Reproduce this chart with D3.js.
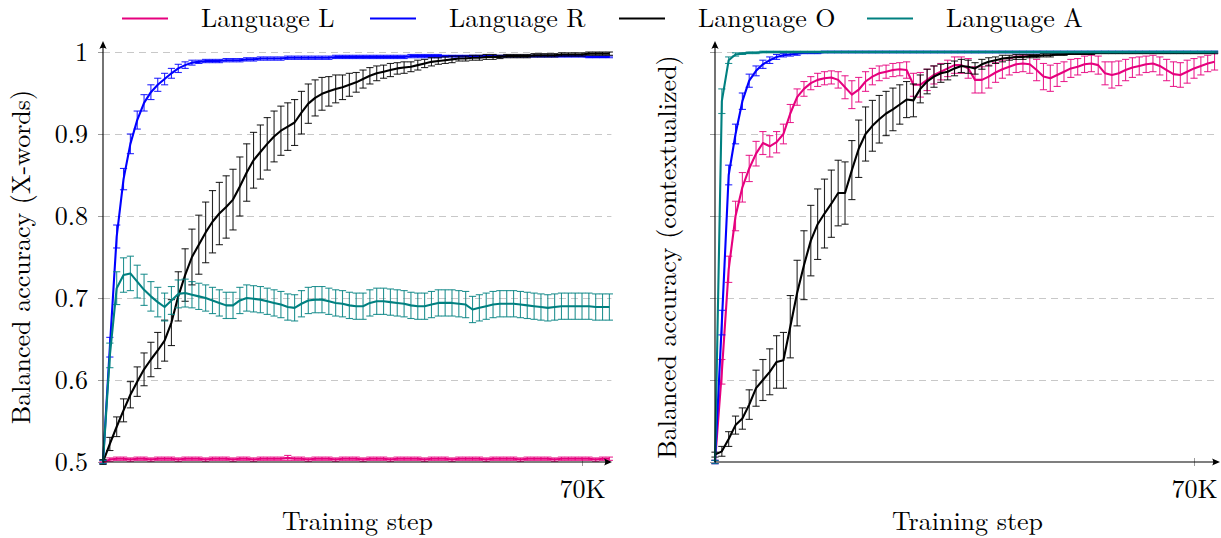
<!DOCTYPE html>
<html>
<head>
<meta charset="utf-8">
<script src="https://cdn.jsdelivr.net/npm/d3@7"></script>
<style>
  html, body { margin: 0; padding: 0; background: #fff; }
  svg { display: block; }
</style>
</head>
<body>
<svg id="chart" width="1221" height="538"></svg>
<script>
const FONT_FAMILY = '"Latin Modern Roman", "Liberation Serif"';
const FONT = 26;

// Training checkpoints, in thousands of steps
const stepsK = [0,1,2,3,4,5,6,7,8,9,10,11,12,13,14,15,16,17,18,19,20,21,22,23,24,25,26,27,28,29,
  30,31,32,33,34,35,36,37,38,39,40,41,42,43,44,45,46,47,48,49,50,51,52,53,54,55,56,57,58,59,
  60,61,62,63,64,65,66,67,68,69,70,71,72,73,74];

const seriesNames = ["Language L", "Language R", "Language O", "Language A"];
const seriesColors = ["#e6007e", "#0000ff", "#000000", "#008080"];

const yTicks = [0.5, 0.6, 0.7, 0.8, 0.9, 1.0];
const yTickLabels = ["0.5", "0.6", "0.7", "0.8", "0.9", "1"];
const xTicks = [70];
const xTickLabels = ["70K"];

// ---- Left panel: balanced accuracy on X-words ----
const leftL = [0.500,0.503,0.504,0.504,0.503,0.504,0.504,0.503,0.504,0.504,
  0.504,0.503,0.504,0.504,0.504,0.503,0.504,0.504,0.504,0.503,
  0.504,0.504,0.503,0.504,0.504,0.504,0.504,0.505,0.504,0.504,
  0.503,0.504,0.504,0.504,0.503,0.504,0.504,0.504,0.503,0.504,
  0.504,0.504,0.503,0.504,0.504,0.504,0.504,0.503,0.504,0.504,
  0.504,0.503,0.504,0.504,0.504,0.504,0.503,0.504,0.504,0.504,
  0.504,0.503,0.504,0.504,0.504,0.504,0.503,0.504,0.504,0.504,
  0.504,0.504,0.503,0.504,0.504];
const leftLErr = [0.001,0.002,0.002,0.002,0.002,0.002,0.002,0.002,0.002,0.002,
  0.002,0.002,0.002,0.002,0.002,0.002,0.002,0.002,0.002,0.002,
  0.002,0.002,0.002,0.002,0.002,0.002,0.002,0.003,0.002,0.002,
  0.002,0.002,0.002,0.002,0.002,0.002,0.002,0.002,0.002,0.002,
  0.002,0.002,0.002,0.002,0.002,0.002,0.002,0.002,0.002,0.002,
  0.002,0.002,0.002,0.002,0.002,0.002,0.002,0.002,0.002,0.002,
  0.002,0.002,0.002,0.002,0.002,0.002,0.002,0.002,0.002,0.002,
  0.002,0.002,0.002,0.002,0.002];

const leftR = [0.500,0.640,0.775,0.845,0.888,0.917,0.938,0.951,0.960,0.967,
  0.974,0.980,0.984,0.987,0.988,0.989,0.989,0.989,0.990,0.990,
  0.990,0.991,0.991,0.992,0.992,0.992,0.992,0.993,0.993,0.993,
  0.993,0.993,0.993,0.993,0.994,0.994,0.994,0.994,0.994,0.994,
  0.994,0.994,0.994,0.994,0.994,0.995,0.995,0.995,0.995,0.995,
  0.995,0.995,0.995,0.995,0.995,0.995,0.995,0.995,0.995,0.995,
  0.995,0.995,0.995,0.995,0.995,0.995,0.995,0.995,0.995,0.995,
  0.995,0.994,0.994,0.994,0.994];
const leftRErr = [0.002,0.012,0.014,0.013,0.012,0.011,0.010,0.009,0.008,0.007,
  0.006,0.005,0.004,0.003,0.002,0.002,0.002,0.002,0.002,0.002,
  0.002,0.002,0.002,0.002,0.002,0.002,0.002,0.002,0.002,0.002,
  0.002,0.002,0.002,0.002,0.002,0.002,0.002,0.002,0.002,0.002,
  0.002,0.002,0.002,0.002,0.002,0.002,0.002,0.002,0.002,0.002,
  0.001,0.001,0.001,0.001,0.001,0.001,0.001,0.001,0.001,0.001,
  0.001,0.001,0.001,0.001,0.001,0.001,0.001,0.001,0.001,0.001,
  0.001,0.001,0.001,0.001,0.001];

const leftO = [0.500,0.522,0.543,0.563,0.582,0.598,0.613,0.625,0.636,0.648,
  0.670,0.702,0.728,0.750,0.765,0.780,0.793,0.803,0.811,0.820,
  0.836,0.853,0.868,0.878,0.888,0.897,0.904,0.909,0.914,0.926,
  0.937,0.944,0.949,0.952,0.955,0.957,0.960,0.963,0.967,0.971,
  0.974,0.976,0.978,0.980,0.981,0.982,0.984,0.986,0.988,0.989,
  0.990,0.991,0.992,0.992,0.993,0.993,0.994,0.994,0.994,0.995,
  0.995,0.995,0.995,0.996,0.996,0.996,0.996,0.997,0.997,0.997,
  0.997,0.998,0.998,0.998,0.998];
const leftOErr = [0.003,0.008,0.012,0.014,0.016,0.018,0.020,0.021,0.022,0.025,
  0.028,0.030,0.032,0.034,0.036,0.037,0.038,0.038,0.038,0.037,
  0.036,0.035,0.034,0.033,0.032,0.031,0.030,0.029,0.028,0.026,
  0.024,0.022,0.020,0.018,0.017,0.015,0.014,0.012,0.011,0.010,
  0.009,0.008,0.008,0.007,0.007,0.006,0.006,0.005,0.005,0.004,
  0.004,0.004,0.003,0.003,0.003,0.003,0.003,0.003,0.002,0.002,
  0.002,0.002,0.002,0.002,0.002,0.002,0.002,0.002,0.002,0.002,
  0.002,0.002,0.002,0.002,0.002];

const leftA = [0.500,0.630,0.712,0.728,0.730,0.720,0.710,0.702,0.695,0.689,
  0.697,0.705,0.706,0.704,0.702,0.700,0.697,0.694,0.691,0.691,
  0.697,0.700,0.699,0.698,0.696,0.694,0.692,0.689,0.688,0.693,
  0.697,0.698,0.698,0.696,0.694,0.693,0.691,0.690,0.690,0.694,
  0.696,0.696,0.695,0.694,0.693,0.691,0.690,0.690,0.692,0.694,
  0.694,0.694,0.693,0.692,0.686,0.688,0.690,0.692,0.693,0.693,
  0.693,0.692,0.691,0.690,0.689,0.688,0.689,0.690,0.690,0.690,
  0.690,0.690,0.689,0.689,0.689];
const leftAErr = [0.002,0.015,0.020,0.021,0.021,0.020,0.019,0.018,0.018,0.017,
  0.017,0.017,0.017,0.016,0.016,0.016,0.016,0.016,0.016,0.016,
  0.016,0.016,0.016,0.016,0.016,0.016,0.016,0.016,0.016,0.016,
  0.016,0.016,0.016,0.016,0.016,0.016,0.016,0.016,0.016,0.016,
  0.016,0.016,0.016,0.016,0.016,0.016,0.016,0.016,0.016,0.016,
  0.016,0.016,0.016,0.016,0.016,0.016,0.016,0.016,0.016,0.016,
  0.016,0.016,0.016,0.016,0.016,0.016,0.016,0.016,0.016,0.016,
  0.016,0.016,0.016,0.016,0.016];

// ---- Right panel: balanced accuracy on contextualized words ----
const rightL = [0.500,0.610,0.735,0.800,0.835,0.858,0.876,0.889,0.885,0.890,
  0.900,0.925,0.945,0.955,0.962,0.966,0.968,0.969,0.966,0.957,
  0.948,0.954,0.964,0.970,0.974,0.976,0.978,0.979,0.978,0.960,
  0.960,0.966,0.972,0.976,0.980,0.984,0.984,0.980,0.966,0.966,
  0.970,0.975,0.979,0.982,0.985,0.986,0.985,0.978,0.970,0.968,
  0.972,0.976,0.980,0.982,0.985,0.986,0.984,0.974,0.972,0.974,
  0.978,0.981,0.983,0.985,0.986,0.983,0.978,0.973,0.972,0.976,
  0.980,0.983,0.986,0.988];
const rightLErr = [0.002,0.015,0.016,0.018,0.018,0.016,0.015,0.014,0.013,0.013,
  0.012,0.011,0.010,0.009,0.008,0.008,0.008,0.008,0.010,0.014,
  0.017,0.015,0.012,0.010,0.009,0.008,0.008,0.008,0.010,0.014,
  0.015,0.013,0.011,0.010,0.010,0.010,0.010,0.012,0.016,0.016,
  0.014,0.012,0.011,0.010,0.010,0.010,0.011,0.013,0.016,0.016,
  0.014,0.012,0.011,0.010,0.010,0.010,0.011,0.014,0.016,0.015,
  0.013,0.012,0.011,0.010,0.010,0.011,0.013,0.015,0.015,0.014,
  0.012,0.011,0.010,0.010];

const rightR = [0.500,0.670,0.850,0.900,0.940,0.965,0.977,0.985,0.990,0.994,
  0.996,0.997,0.998,0.999,0.999,0.999,1.000,1.000,1.000,1.000,
  1.000,1.000,1.000,1.000,1.000,1.000,1.000,1.000,1.000,1.000,
  1.000,1.000,1.000,1.000,1.000,1.000,1.000,1.000,1.000,1.000,
  1.000,1.000,1.000,1.000,1.000,1.000,1.000,1.000,1.000,1.000,
  1.000,1.000,1.000,1.000,1.000,1.000,1.000,1.000,1.000,1.000,
  1.000,1.000,1.000,1.000,1.000,1.000,1.000,1.000,1.000,1.000,
  1.000,1.000,1.000,1.000];
const rightRErr = [0.002,0.015,0.012,0.012,0.010,0.008,0.006,0.005,0.004,0.003,
  0.002,0.002,0.002,0.001,0.001,0.001,0.001,0.001,0.001,0.001,
  0.001,0.001,0.001,0.001,0.001,0.001,0.001,0.001,0.001,0.001,
  0.001,0.001,0.001,0.001,0.001,0.001,0.001,0.001,0.001,0.001,
  0.001,0.001,0.001,0.001,0.001,0.001,0.001,0.001,0.001,0.001,
  0.001,0.001,0.001,0.001,0.001,0.001,0.001,0.001,0.001,0.001,
  0.001,0.001,0.001,0.001,0.001,0.001,0.001,0.001,0.001,0.001,
  0.001,0.001,0.001,0.001];

const rightO = [0.509,0.513,0.528,0.545,0.553,0.570,0.590,0.600,0.610,0.622,
  0.624,0.665,0.706,0.740,0.770,0.790,0.803,0.815,0.828,0.828,
  0.856,0.882,0.900,0.910,0.918,0.925,0.930,0.936,0.942,0.941,
  0.955,0.964,0.970,0.974,0.976,0.980,0.983,0.982,0.980,0.985,
  0.988,0.990,0.992,0.993,0.994,0.994,0.995,0.995,0.996,0.996,
  0.997,0.997,0.998,0.998,0.998,0.998,0.999,0.999,0.999,0.999,
  0.999,0.999,0.999,0.999,0.999,0.999,0.999,0.999,0.999,0.999,
  0.999,0.999,0.999,0.999];
const rightOErr = [0.003,0.006,0.009,0.011,0.013,0.018,0.022,0.025,0.028,0.032,
  0.034,0.038,0.040,0.042,0.043,0.043,0.042,0.041,0.040,0.038,
  0.036,0.035,0.033,0.031,0.029,0.027,0.026,0.024,0.022,0.020,
  0.017,0.015,0.013,0.011,0.010,0.009,0.008,0.008,0.007,0.006,
  0.005,0.004,0.004,0.003,0.003,0.003,0.002,0.002,0.002,0.002,
  0.001,0.001,0.001,0.001,0.001,0.001,0.001,0.001,0.001,0.001,
  0.001,0.001,0.001,0.001,0.001,0.001,0.001,0.001,0.001,0.001,
  0.001,0.001,0.001,0.001];

const rightA = [0.500,0.940,0.990,0.997,0.998,0.999,0.999,1.000,1.000,1.000,
  1.000,1.000,1.000,1.000,1.000,1.000,1.000,1.000,1.000,1.000,
  1.000,1.000,1.000,1.000,1.000,1.000,1.000,1.000,1.000,1.000,
  1.000,1.000,1.000,1.000,1.000,1.000,1.000,1.000,1.000,1.000,
  1.000,1.000,1.000,1.000,1.000,1.000,1.000,1.000,1.000,1.000,
  1.000,1.000,1.000,1.000,1.000,1.000,1.000,1.000,1.000,1.000,
  1.000,1.000,1.000,1.000,1.000,1.000,1.000,1.000,1.000,1.000,
  1.000,1.000,1.000,1.000];
const rightAErr = [0.002,0.015,0.004,0.002,0.001,0.001,0.001,0.001,0.001,0.001,
  0.001,0.001,0.001,0.001,0.001,0.001,0.001,0.001,0.001,0.001,
  0.001,0.001,0.001,0.001,0.001,0.001,0.001,0.001,0.001,0.001,
  0.001,0.001,0.001,0.001,0.001,0.001,0.001,0.001,0.001,0.001,
  0.001,0.001,0.001,0.001,0.001,0.001,0.001,0.001,0.001,0.001,
  0.001,0.001,0.001,0.001,0.001,0.001,0.001,0.001,0.001,0.001,
  0.001,0.001,0.001,0.001,0.001,0.001,0.001,0.001,0.001,0.001,
  0.001,0.001,0.001,0.001];

const svg = d3.select("#chart");
svg.append("rect").attr("width", 1221).attr("height", 538).attr("fill", "#fff");

function label(sel) {
  return sel.attr("font-family", FONT_FAMILY).attr("font-size", FONT).attr("fill", "#000");
}

function drawPanel(cfg) {
  const x = d3.scaleLinear().domain([0, cfg.xMax]).range([cfg.left, cfg.right]);
  const y = d3.scaleLinear().domain([0.5, 1.0]).range([462, 52]);
  const g = svg.append("g");

  // dashed horizontal grid
  const grid = g.append("g")
    .attr("transform", `translate(${cfg.left},0)`)
    .call(d3.axisLeft(y).tickValues(yTicks.filter(v => v > 0.5))
      .tickSize(-(cfg.right - cfg.left + 2)).tickFormat(""));
  grid.select(".domain").remove();
  grid.selectAll(".tick line")
    .attr("stroke", "#c8c8c8").attr("stroke-width", 1.1)
    .attr("stroke-dasharray", "7,5");

  // y ticks (and labels on the left panel)
  const ya = g.append("g")
    .attr("transform", `translate(${cfg.left},0)`)
    .call(d3.axisLeft(y).tickValues(yTicks).tickSize(5).tickPadding(10)
      .tickFormat((d, i) => cfg.yLabels ? yTickLabels[i] : ""));
  ya.select(".domain").remove();
  ya.selectAll(".tick line").attr("stroke", "#9a9a9a");
  label(ya.selectAll(".tick text"));

  // x ticks
  const xa = g.append("g")
    .attr("transform", "translate(0,462)")
    .call(d3.axisBottom(x).tickValues(xTicks).tickSize(4).tickPadding(14)
      .tickFormat((d, i) => xTickLabels[i]));
  xa.select(".domain").remove();
  xa.selectAll(".tick line").attr("y1", -4).attr("y2", 4).attr("stroke", "#9a9a9a");
  label(xa.selectAll(".tick text"));

  // series: error bars first, then the mean line
  cfg.series.forEach((s, si) => {
    const color = seriesColors[si];
    const pts = s.vals.map((v, i) => ({ k: stepsK[i], v, e: s.err[i] }));
    const eb = g.append("g").attr("stroke", color).attr("stroke-width", 1.1)
      .attr("stroke-opacity", 0.85).attr("fill", "none");
    pts.forEach(p => {
      const cx = x(p.k), y1 = y(p.v + p.e), y2 = y(p.v - p.e);
      eb.append("line").attr("x1", cx).attr("x2", cx).attr("y1", y1).attr("y2", y2);
      eb.append("line").attr("x1", cx - 3.6).attr("x2", cx + 3.6).attr("y1", y1).attr("y2", y1);
      eb.append("line").attr("x1", cx - 3.6).attr("x2", cx + 3.6).attr("y1", y2).attr("y2", y2);
    });
    g.append("path").datum(pts)
      .attr("fill", "none").attr("stroke", color).attr("stroke-width", 2.1)
      .attr("stroke-linejoin", "round")
      .attr("d", d3.line().x(d => x(d.k)).y(d => y(d.v)));
  });

  // axis lines with arrow heads
  const ax = g.append("g").attr("stroke", "#000").attr("stroke-width", 1.1);
  ax.append("line").attr("x1", cfg.left).attr("x2", cfg.left).attr("y1", 462).attr("y2", 44);
  ax.append("line").attr("x1", cfg.left).attr("x2", cfg.arrowX - 2).attr("y1", 462).attr("y2", 462);
  g.append("path")
    .attr("d", `M${cfg.left},41 L${cfg.left - 3.6},49 Q${cfg.left},46.5 ${cfg.left + 3.6},49 Z`)
    .attr("fill", "#000");
  g.append("path")
    .attr("d", `M${cfg.arrowX},462 L${cfg.arrowX - 8},${462 - 3.6} Q${cfg.arrowX - 5.5},462 ${cfg.arrowX - 8},${462 + 3.6} Z`)
    .attr("fill", "#000");

  // axis titles
  label(g.append("text"))
    .attr("x", (cfg.left + cfg.arrowX) / 2).attr("y", 530)
    .attr("text-anchor", "middle")
    .text("Training step");
  label(g.append("text"))
    .attr("transform", `translate(${cfg.titleX},257) rotate(-90)`)
    .attr("text-anchor", "middle")
    .text(cfg.yTitle);
}

drawPanel({
  left: 103, right: 103 + 74 * 6.843, xMax: 74, arrowX: 612, yLabels: true,
  titleX: 30, yTitle: "Balanced accuracy (X-words)",
  series: [
    { vals: leftL, err: leftLErr },
    { vals: leftR, err: leftRErr },
    { vals: leftO, err: leftOErr },
    { vals: leftA, err: leftAErr }
  ]
});

drawPanel({
  left: 715, right: 715 + 73 * 6.843, xMax: 73, arrowX: 1220, yLabels: false,
  titleX: 676, yTitle: "Balanced accuracy (contextualized)",
  series: [
    { vals: rightL, err: rightLErr },
    { vals: rightR, err: rightRErr },
    { vals: rightO, err: rightOErr },
    { vals: rightA, err: rightAErr }
  ]
});

// legend across the top
const legendLineX = [122, 370, 619, 867];
const leg = svg.append("g");
seriesNames.forEach((name, i) => {
  leg.append("line")
    .attr("x1", legendLineX[i]).attr("x2", legendLineX[i] + 46)
    .attr("y1", 18.5).attr("y2", 18.5)
    .attr("stroke", seriesColors[i]).attr("stroke-width", 2.1);
  label(leg.append("text"))
    .attr("x", legendLineX[i] + 79).attr("y", 27)
    .text(name);
});
</script>
</body>
</html>
